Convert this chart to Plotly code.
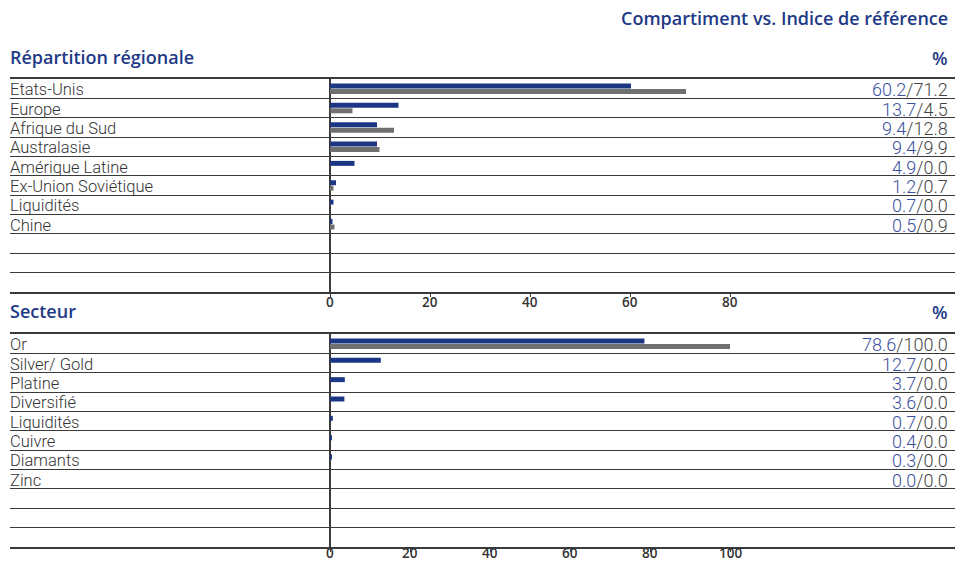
import plotly.graph_objects as go

# Regional allocation: fund vs. benchmark (%)
region_labels = ["Etats-Unis", "Europe", "Afrique du Sud", "Australasie",
                 "Amérique Latine", "Ex-Union Soviétique", "Liquidités", "Chine"]
region_fund = [60.2, 13.7, 9.4, 9.4, 4.9, 1.2, 0.7, 0.5]
region_bench = [71.2, 4.5, 12.8, 9.9, 0.0, 0.7, 0.0, 0.9]

# Sector allocation: fund vs. benchmark (%)
sector_labels = ["Or", "Silver/ Gold", "Platine", "Diversifié",
                 "Liquidités", "Cuivre", "Diamants", "Zinc"]
sector_fund = [78.6, 12.7, 3.7, 3.6, 0.7, 0.4, 0.3, 0.0]
sector_bench = [100.0, 0.0, 0.0, 0.0, 0.0, 0.0, 0.0, 0.0]

region_ticks = [0, 20, 40, 60, 80]
sector_ticks = [0, 20, 40, 60, 80, 100]

N_ROWS = 11  # 8 categories plus 3 blank rows per table

W, H = 955, 562
BLUE = "#1b3784"
GREY = "#707070"
TITLE_BLUE = "#1e3a86"
VALUE_BLUE = "#3b50a0"
LINE = "#3a3a3a"
TEXT = "#333333"


def px_y(py):
    return 1 - py / H


fig = go.Figure()

panels = [
    dict(labels=region_labels, fund=region_fund, bench=region_bench,
         ticks=region_ticks, xa="x", ya="y", top=79, bottom=292,
         xrange=[-64, 125], tick_y=302),
    dict(labels=sector_labels, fund=sector_fund, bench=sector_bench,
         ticks=sector_ticks, xa="x2", ya="y2", top=334, bottom=547,
         xrange=[-80, 156.25], tick_y=553),
]

annotations = []
for p in panels:
    ypos = list(range(len(p["labels"])))
    fig.add_trace(go.Bar(x=p["fund"], y=ypos, orientation="h",
                         marker=dict(color=BLUE, line=dict(width=0)),
                         xaxis=p["xa"], yaxis=p["ya"], showlegend=False,
                         hoverinfo="skip"))
    fig.add_trace(go.Bar(x=p["bench"], y=ypos, orientation="h",
                         marker=dict(color=GREY, line=dict(width=0)),
                         xaxis=p["xa"], yaxis=p["ya"], showlegend=False,
                         hoverinfo="skip"))
    for i, (lab, f, b) in enumerate(zip(p["labels"], p["fund"], p["bench"])):
        annotations.append(dict(
            x=8 / W, xref="paper", xanchor="left",
            y=i + 0.05, yref=p["ya"], yanchor="middle",
            text=lab, showarrow=False,
            font=dict(family="Roboto", size=16.5, color=TEXT, weight=300)))
        annotations.append(dict(
            x=950 / W, xref="paper", xanchor="right",
            y=i + 0.05, yref=p["ya"], yanchor="middle",
            text=f"<span style='color:{VALUE_BLUE}'>{f:.1f}</span>/{b:.1f}",
            showarrow=False,
            font=dict(family="Roboto", size=18, color="#444444", weight=300)))
    # axis numbers, set close under the baseline
    for t in p["ticks"]:
        annotations.append(dict(
            x=t, xref=p["xa"], xanchor="center",
            y=px_y(p["tick_y"]), yref="paper", yanchor="middle",
            text=str(t), showarrow=False,
            font=dict(family="Open Sans", size=13.5, color=TEXT, weight=600)))

axis_common = dict(showline=True, mirror=True, linecolor=LINE, linewidth=2,
                   ticks="outside", ticklen=3, tickcolor=LINE, tickwidth=1,
                   showticklabels=False,
                   showgrid=False, zeroline=True, zerolinecolor=LINE,
                   zerolinewidth=2, fixedrange=True, automargin=False)
yaxis_common = dict(range=[N_ROWS - 0.5, -0.5], showticklabels=False,
                    tickvals=[k + 0.5 for k in range(N_ROWS - 1)],
                    ticks="", showgrid=True, gridcolor=LINE, gridwidth=1,
                    zeroline=False, showline=False, fixedrange=True,
                    automargin=False)

layout_axes = {}
for n, p in enumerate(panels):
    suffix = "" if n == 0 else str(n + 1)
    layout_axes["xaxis" + suffix] = dict(
        axis_common, range=p["xrange"], tickvals=p["ticks"],
        domain=[10 / W, 1], anchor=p["ya"])
    layout_axes["yaxis" + suffix] = dict(
        yaxis_common, domain=[px_y(p["bottom"]), px_y(p["top"])],
        anchor=p["xa"])

title_font = dict(family="Open Sans", size=18, color=TITLE_BLUE, weight=600)
annotations += [
    dict(x=950 / W, y=px_y(18), xref="paper", yref="paper", xanchor="right",
         yanchor="middle", text="Compartiment vs. Indice de référence",
         showarrow=False, font=title_font),
    dict(x=8 / W, y=px_y(57), xref="paper", yref="paper", xanchor="left",
         yanchor="middle", text="Répartition régionale", showarrow=False,
         font=title_font),
    dict(x=950 / W, y=px_y(58), xref="paper", yref="paper", xanchor="right",
         yanchor="middle", text="%", showarrow=False, font=title_font),
    dict(x=8 / W, y=px_y(311), xref="paper", yref="paper", xanchor="left",
         yanchor="middle", text="Secteur", showarrow=False, font=title_font),
    dict(x=950 / W, y=px_y(312), xref="paper", yref="paper", xanchor="right",
         yanchor="middle", text="%", showarrow=False, font=title_font),
]

fig.update_layout(
    width=W, height=H, margin=dict(l=0, r=0, t=0, b=0, autoexpand=False),
    paper_bgcolor="white", plot_bgcolor="white",
    barmode="group", bargap=0.43, bargroupgap=0.1,
    annotations=annotations, **layout_axes)

fig.write_html("out.html", config={"displayModeBar": False})
